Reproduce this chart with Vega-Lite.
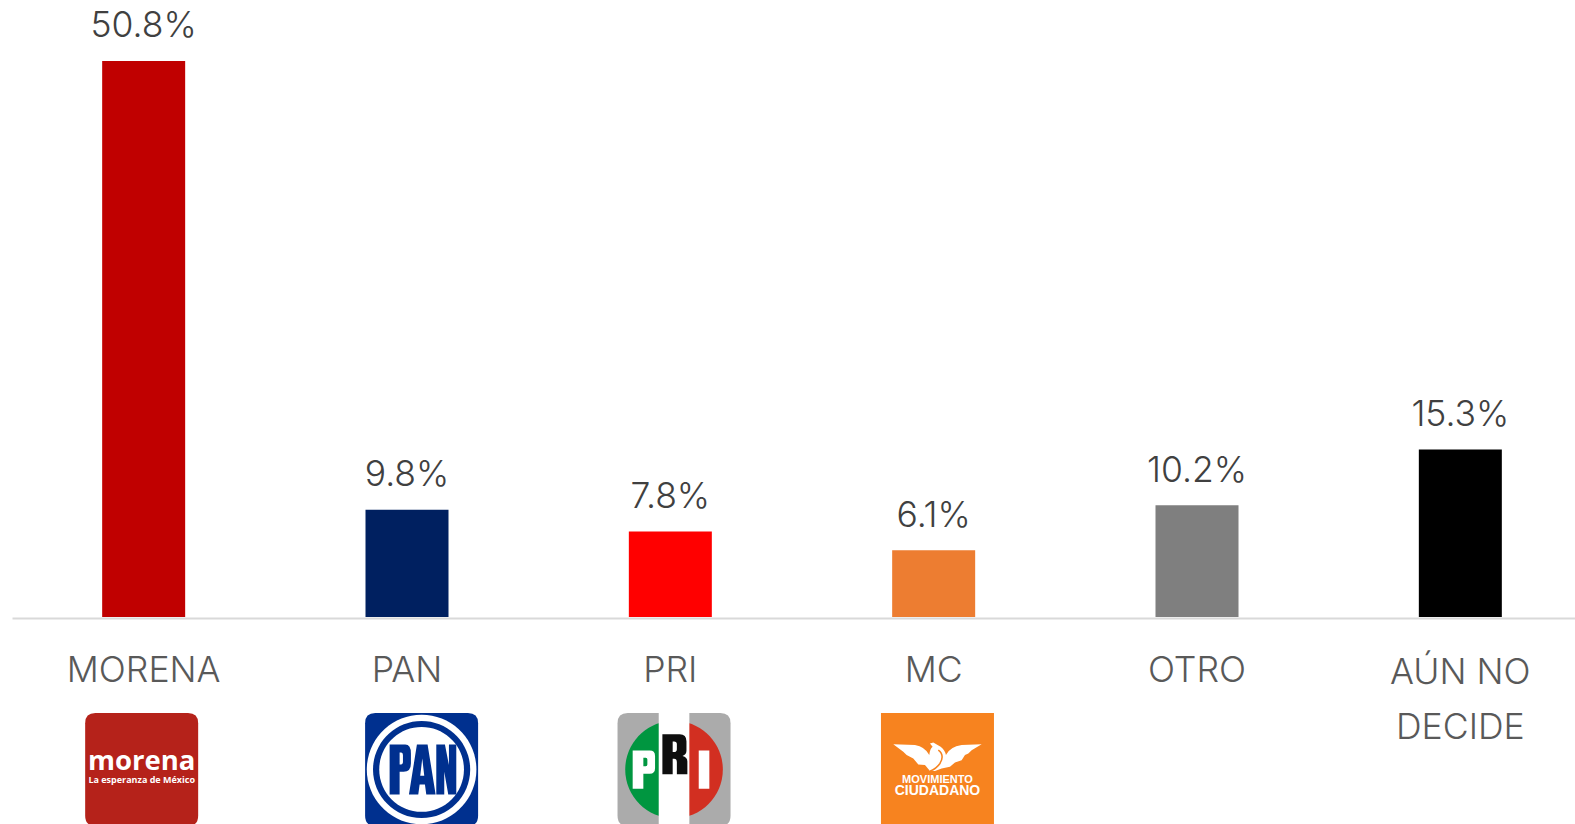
{
"$schema":"https://vega.github.io/schema/vega-lite/v6.json",
"width":1563,"height":617,"autosize":{"type":"none"},
"padding":{"left":12,"top":0,"right":0,"bottom":207},
"background":"white",
"view":{"stroke":null},
"data":{"values":[
{"party":"MORENA","value":50.8,"label":"50.8%"},
{"party":"PAN","value":9.8,"label":"9.8%"},
{"party":"PRI","value":7.8,"label":"7.8%"},
{"party":"MC","value":6.1,"label":"6.1%"},
{"party":"OTRO","value":10.2,"label":"10.2%"},
{"party":"AÚN NO DECIDE","value":15.3,"label":"15.3%"}
]},
"encoding":{"x":{"field":"party","type":"nominal","sort":null,
 "scale":{"domain":["MORENA","PAN","PRI","MC","OTRO","AÚN NO DECIDE"],"range":[0,1580],"paddingInner":0,"paddingOuter":0},
 "axis":{"title":null,"ticks":false,"grid":false,"domainColor":"#D9D9D9","domainWidth":2,"offset":1,"labelAngle":0,"labelFont":"Inter","labelFontWeight":300,"labelFontSize":35.6,"labelColor":"#595959","labelPadding":35,"labelLimit":500,"labelOverlap":false,"labelBound":false,"labelFlush":false,"labelLineHeight":55,"labelBaseline":"top","labelExpr":"datum.label == 'AÚN NO DECIDE' ? ['AÚN NO','DECIDE'] : datum.label","encoding":{"labels":{"dy":{"condition":{"test":"datum.value == 'AÚN NO DECIDE'","value":2},"value":0}}}}}},
"layer":[
{"mark":{"type":"bar","size":83},
 "encoding":{"y":{"field":"value","type":"quantitative","axis":null,"scale":{"domain":[0,56.37],"nice":false,"zero":true}},
 "color":{"field":"party","type":"nominal","legend":null,"scale":{"domain":["MORENA","PAN","PRI","MC","OTRO","AÚN NO DECIDE"],"range":["#C00000","#002060","#FF0000","#ED7D31","#7F7F7F","#000000"]}}}},
{"mark":{"type":"text","baseline":"alphabetic","dy":-23.5,"font":"Inter","fontWeight":300,"fontSize":35.5,"fill":"#404040"},
 "encoding":{"y":{"field":"value","type":"quantitative","axis":null,"scale":{"domain":[0,56.37],"nice":false,"zero":true}},"text":{"field":"label"}}},
{"encoding":{"y":{"datum":-13.93,"axis":null,"scale":{"domain":[0,56.37],"nice":false,"zero":true}}},
 "layer":[
 {"transform":[{"filter":"datum.party=='MORENA'"}],
  "layer":[
  {"mark":{"type":"point","filled":true,"opacity":1,"fill":"#B5221A","strokeWidth":0,"size":12769,"xOffset":-2,"shape":"M-.82,-1 H.82 Q1,-1 1,-.82 V.82 Q1,1 .82,1 H-.82 Q-1,1 -1,.82 V-.82 Q-1,-1 -.82,-1 Z"}},
  {"mark":{"type":"text","text":"morena","font":"Open Sans","fontWeight":700,"fontSize":27.5,"fill":"white","baseline":"alphabetic","xOffset":-2,"yOffset":1}},
  {"mark":{"type":"text","text":"La esperanza de México","font":"Open Sans","fontWeight":700,"fontSize":9,"fill":"white","baseline":"alphabetic","xOffset":-2,"yOffset":13.5}}
  ]},
 {"transform":[{"filter":"datum.party=='PAN'"}],
  "layer":[
  {"mark":{"type":"point","filled":true,"opacity":1,"fill":"#00308F","strokeWidth":0,"size":12769,"xOffset":14.6,"shape":"M-.82,-1 H.82 Q1,-1 1,-.82 V.82 Q1,1 .82,1 H-.82 Q-1,1 -1,.82 V-.82 Q-1,-1 -.82,-1 Z"}},
  {"mark":{"type":"point","filled":true,"opacity":1,"fill":"white","strokeWidth":0,"size":12769,"xOffset":14.6,"shape":"M0,-.97 A.97,.97 0 1 1 0,.97 A.97,.97 0 1 1 0,-.97 Z"}},
  {"mark":{"type":"point","filled":true,"opacity":1,"fill":"#00308F","strokeWidth":0,"size":12769,"xOffset":14.6,"shape":"M0,-.86 A.86,.86 0 1 1 0,.86 A.86,.86 0 1 1 0,-.86 Z"}},
  {"mark":{"type":"point","filled":true,"opacity":1,"fill":"white","strokeWidth":0,"size":12769,"xOffset":14.6,"shape":"M0,-.75 A.75,.75 0 1 1 0,.75 A.75,.75 0 1 1 0,-.75 Z"}},
  {"mark":{"type":"point","filled":true,"opacity":1,"fill":"#00308F","strokeWidth":0,"size":12769,"xOffset":14.6,"shape":"M-.566,-.442 H-.289 Q-.189,-.442 -.189,-.283 V-.106 Q-.189,.041 -.319,.041 H-.389 V.442 H-.566 Z M-.389,-.301 V-.088 H-.36 Q-.33,-.088 -.33,-.136 V-.254 Q-.33,-.301 -.36,-.301 Z M-.083,-.442 H.106 L.248,.442 H.083 L.059,.265 H-.035 L-.059,.442 H-.224 Z M.012,-.195 L-.024,.112 H.047 Z M.26,-.442 H.413 L.484,-.077 V-.442 H.614 V.442 H.472 L.401,.041 V.442 H.26 Z"}}
  ]},
 {"transform":[{"filter":"datum.party=='PRI'"}],
  "layer":[
  {"mark":{"type":"point","filled":true,"opacity":1,"fill":"#ABABAB","strokeWidth":0,"size":12769,"xOffset":3.7,"shape":"M-.82,-1 H.82 Q1,-1 1,-.82 V.82 Q1,1 .82,1 H-.82 Q-1,1 -1,.82 V-.82 Q-1,-1 -.82,-1 Z"}},
  {"mark":{"type":"point","filled":true,"opacity":1,"fill":"#009640","strokeWidth":0,"size":12769,"xOffset":3.7,"shape":"M0,-.864 A.864,.864 0 0 0 0,.864 Z"}},
  {"mark":{"type":"point","filled":true,"opacity":1,"fill":"#D22F21","strokeWidth":0,"size":12769,"xOffset":3.7,"shape":"M0,-.864 A.864,.864 0 0 1 0,.864 Z"}},
  {"mark":{"type":"point","filled":true,"opacity":1,"fill":"white","strokeWidth":0,"size":12769,"xOffset":3.7,"shape":"M-.271,-1 H.271 V1 H-.271 Z"}},
  {"mark":{"type":"point","filled":true,"opacity":1,"fill":"white","strokeWidth":0,"size":12769,"xOffset":3.7,"shape":"M-.732,-.336 H-.43 Q-.336,-.336 -.336,-.24 V-.02 Q-.336,.077 -.43,.077 H-.543 V.342 H-.732 Z M-.543,-.206 V-.059 H-.5 Q-.472,-.059 -.472,-.09 V-.175 Q-.472,-.206 -.5,-.206 Z M.437,-.336 H.625 V.342 H.437 Z"}},
  {"mark":{"type":"point","filled":true,"opacity":1,"fill":"#0E0E0E","strokeWidth":0,"size":12769,"xOffset":3.7,"shape":"M-.206,-.625 H.1 Q.22,-.625 .22,-.5 V-.33 Q.22,-.26 .15,-.24 Q.236,-.22 .236,-.14 V.083 H.05 V-.13 Q.05,-.19 0,-.19 H-.024 V.083 H-.206 Z M-.024,-.495 V-.31 H0 Q.05,-.31 .05,-.36 V-.45 Q.05,-.495 0,-.495 Z"}}
  ]},
 {"transform":[{"filter":"datum.party=='MC'"}],
  "layer":[
  {"mark":{"type":"point","filled":true,"opacity":1,"fill":"#F7831F","strokeWidth":0,"size":12769,"xOffset":3.8,"shape":"M-1,-1 H1 V1 H-1 Z"}},
  {"mark":{"type":"point","filled":true,"opacity":1,"fill":"white","strokeWidth":0,"size":12769,"xOffset":3.8,"shape":"M-.782,-.448 L-.398,-.431 Q-.221,-.401 -.145,-.254 Q-.133,-.372 -.086,-.401 L-.133,-.46 L-.074,-.478 L.056,-.401 Q.133,-.342 .15,-.254 Q.221,-.401 .428,-.431 L.782,-.448 L.605,-.342 L.546,-.283 L.487,-.254 L.428,-.165 L.31,-.124 L.221,-.047 L.074,-.018 L-.044,.029 L-.133,.029 L-.221,-.077 L-.339,-.088 L-.428,-.195 L-.546,-.254 L-.605,-.313 Z"}},
  {"mark":{"type":"point","filled":false,"opacity":1,"fill":null,"stroke":"#F7831F","strokeWidth":1.5,"size":12769,"xOffset":3.8,"shape":"M.015,-.342 Q.133,-.254 .044,-.106 Q-.015,-.018 -.133,.029"}},
  {"mark":{"type":"text","text":"MOVIMIENTO","font":"Liberation Sans","fontWeight":700,"fontSize":11,"fill":"white","baseline":"alphabetic","xOffset":3.8,"yOffset":14}},
  {"mark":{"type":"text","text":"CIUDADANO","font":"Liberation Sans","fontWeight":700,"fontSize":14,"fill":"white","baseline":"alphabetic","xOffset":3.8,"yOffset":26}}
  ]}
 ]}
]
}
